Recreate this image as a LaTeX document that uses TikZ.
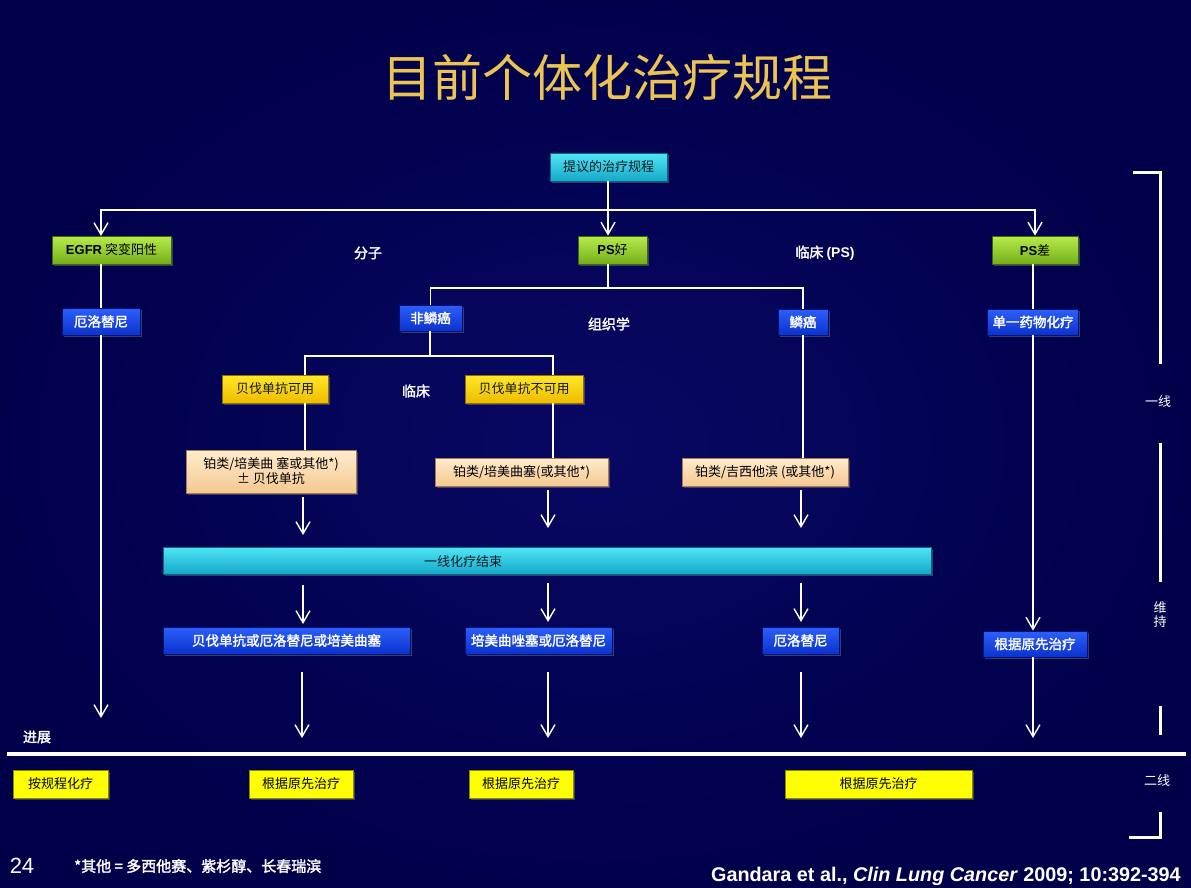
\documentclass[tikz,border=0pt]{standalone}
\usepackage{fontspec}
\setmainfont{Noto Sans CJK SC}[AutoFakeBold=2]
\newfontfamily\lat{Liberation Sans}
\usetikzlibrary{arrows.meta,shadows}
\newcommand\fsz[2]{\fontsize{#1}{#2}\selectfont}
\definecolor{bgin}{RGB}{8,8,100}
\definecolor{bgout}{RGB}{0,0,74}
\definecolor{gold}{RGB}{236,196,84}
\definecolor{cyanT}{RGB}{80,230,245}
\definecolor{cyanB}{RGB}{20,168,200}
\definecolor{cyanD}{RGB}{0,105,135}
\definecolor{greenT}{RGB}{185,235,75}
\definecolor{greenB}{RGB}{115,175,25}
\definecolor{greenD}{RGB}{60,105,10}
\definecolor{blueT}{RGB}{45,95,250}
\definecolor{blueB}{RGB}{10,50,205}
\definecolor{blueD}{RGB}{0,20,120}
\definecolor{goldT}{RGB}{255,232,40}
\definecolor{goldB}{RGB}{238,188,0}
\definecolor{goldD}{RGB}{150,110,0}
\definecolor{peachT}{RGB}{255,236,205}
\definecolor{peachB}{RGB}{245,200,145}
\definecolor{peachD}{RGB}{165,125,80}
\definecolor{yel}{RGB}{255,255,0}
\definecolor{yelD}{RGB}{140,140,0}
\definecolor{dtext}{RGB}{20,25,35}
\tikzset{
  basebox/.style={rectangle, inner sep=0pt, line width=0.8pt,
    drop shadow={shadow xshift=1.5pt, shadow yshift=-1.5pt, opacity=0.45},
    font=\fsz{13}{16}},
  cyanbox/.style={basebox, draw=cyanD, top color=cyanT, bottom color=cyanB, text=dtext},
  greenbox/.style={basebox, draw=greenD, top color=greenT, bottom color=greenB, text=black},
  bluebox/.style={basebox, draw=blueD, top color=blueT, bottom color=blueB, text=white, font=\fsz{13.5}{16}\bfseries},
  goldbox/.style={basebox, draw=goldD, top color=goldT, bottom color=goldB, text=dtext},
  peachbox/.style={basebox, draw=peachD, top color=peachT, bottom color=peachB, text=black},
  yelbox/.style={basebox, draw=yelD, fill=yel, text=black},
  lbl/.style={text=white, font=\fsz{14}{17}\bfseries, inner sep=0pt},
  ln/.style={draw=white, line width=1.4pt},
  arr/.style={ln, -{Straight Barb[length=12pt,width=14pt,line width=1.4pt]}},
  brk/.style={draw=white, line width=3pt},
}
\begin{document}
\begin{tikzpicture}[x=1pt,y=-1pt]
\shade[inner color=bgin, outer color=bgout] (0,0) rectangle (1191,888);
\useasboundingbox (0,0) rectangle (1191,888);

% title
\node[text=gold, font=\fsz{50}{58}] (title) at (607,77) {目前个体化治疗规程};

% boxes
\node[cyanbox, minimum width=117, minimum height=28] (prop) at (608.5,167) {提议的治疗规程};
\node[greenbox, minimum width=119, minimum height=28] (egfr) at (111.5,250) {{\lat\bfseries EGFR} 突变阳性};
\node[greenbox, minimum width=69, minimum height=28] (psgood) at (612.5,250) {{\lat\bfseries PS}好};
\node[greenbox, minimum width=86, minimum height=28] (psbad) at (1035,250) {{\lat\bfseries PS}差};

\node[bluebox, minimum width=78, minimum height=27] (erl1) at (101,321.5) {厄洛替尼};
\node[bluebox, minimum width=63, minimum height=26] (nonsq) at (430.5,318) {非鳞癌};
\node[bluebox, minimum width=50, minimum height=26] (sq) at (803,322) {鳞癌};
\node[bluebox, minimum width=91, minimum height=26] (single) at (1033,322) {单一药物化疗};

\node[goldbox, minimum width=106, minimum height=28] (bev) at (275,389) {贝伐单抗可用};
\node[goldbox, minimum width=118, minimum height=28] (nobev) at (524,389) {贝伐单抗不可用};

\node[peachbox, minimum width=170, minimum height=43, align=center, font=\fsz{13}{15}] (p1) at (271,471.5) {铂类/培美曲 塞或其他*)\\± 贝伐单抗};
\node[peachbox, minimum width=173, minimum height=28] (p2) at (521.5,472) {铂类/培美曲塞(或其他*)};
\node[peachbox, minimum width=166, minimum height=28] (p3) at (765,472) {铂类/吉西他滨 (或其他*)};

\node[cyanbox, minimum width=768, minimum height=27] (endbar) at (547,560.5) {};
\node[text=dtext, font=\fsz{13}{16}, inner sep=0pt] (endlbl) at (463,562) {一线化疗结束};

\node[bluebox, minimum width=247, minimum height=27] (m1) at (286.5,640.5) {贝伐单抗或厄洛替尼或培美曲塞};
\node[bluebox, minimum width=147, minimum height=27] (m2) at (538.5,640.5) {培美曲唑塞或厄洛替尼};
\node[bluebox, minimum width=77, minimum height=27] (m3) at (800.5,640.5) {厄洛替尼};
\node[bluebox, minimum width=104, minimum height=26] (m4) at (1035,644) {根据原先治疗};

\node[yelbox, minimum width=95, minimum height=28] (y1) at (60.5,784) {按规程化疗};
\node[yelbox, minimum width=104, minimum height=28] (y2) at (301,784) {根据原先治疗};
\node[yelbox, minimum width=104, minimum height=28] (y3) at (521,784) {根据原先治疗};
\node[yelbox, minimum width=187, minimum height=28] (y4) at (878.5,784) {根据原先治疗};

% labels
\node[lbl] (lmol) at (368,253) {分子};
\node[lbl] (lclinps) at (825,253) {临床 {\lat(PS)}};
\node[lbl] (lhist) at (609,324) {组织学};
\node[lbl] (lclin) at (416,391) {临床};
\node[lbl] (lprog) at (37,737) {进展};
\node[lbl, font=\fsz{13}{16}] (lfirst) at (1158,402) {一线};
\node[lbl, font=\fsz{13}{14}, align=center] (lmaint) at (1160,615) {维\\持};
\node[lbl, font=\fsz{13}{16}] (lsecond) at (1157,781) {二线};

% coordinates
\coordinate (j0) at (608,210);
\coordinate (eIn) at (101,236);
\coordinate (j1) at (608,288);
\coordinate (j2) at (430,356);
\coordinate (bevIn) at (305,375);
\coordinate (nobevIn) at (553,375);
\coordinate (eOut) at (101,718);

% connectors top
\draw[ln] (prop.south -| j0) -- (j0);
\draw[arr] (j0) -| (eIn);
\draw[arr] (j0) -- (j0 |- psgood.north);
\draw[arr] (j0) -| (psbad.north);
\draw[ln] (egfr.south -| erl1) -- (erl1.north);
\draw[arr] (erl1.south) -- (eOut);
\draw[ln] (psgood.south -| j1) -- (j1);
\draw[ln] (j1) -| (nonsq.north);
\draw[ln] (j1) -| (sq.north);
\draw[ln] (psbad.south -| single) -- (single.north);
\draw[arr] (single.south) -- (single.south |- m4.north);
\draw[ln] (nonsq.south -| j2) -- (j2);
\draw[ln] (j2) -| (bevIn);
\draw[ln] (j2) -| (nobevIn);
\draw[ln] (bev.south -| bevIn) -- (p1.north -| bevIn);
\draw[ln] (nobev.south -| nobevIn) -- (p2.north -| nobevIn);
\draw[ln] (sq.south) -- (p3.north -| sq.south);

% free arrows
\coordinate (a1s) at (303,497); \coordinate (a1e) at (303,535);
\coordinate (a2s) at (548,490); \coordinate (a2e) at (548,528);
\coordinate (a3s) at (801,490); \coordinate (a3e) at (801,528);
\coordinate (b1s) at (303,585); \coordinate (b1e) at (303,624);
\coordinate (b2s) at (548,583); \coordinate (b2e) at (548,622);
\coordinate (b3s) at (801,583); \coordinate (b3e) at (801,622);
\coordinate (c1s) at (302,672); \coordinate (c1e) at (302,738);
\coordinate (c2s) at (548,672); \coordinate (c2e) at (548,738);
\coordinate (c3s) at (801,672); \coordinate (c3e) at (801,738);
\coordinate (c4e) at (1033,738);
\draw[arr] (a1s) -- (a1e);
\draw[arr] (a2s) -- (a2e);
\draw[arr] (a3s) -- (a3e);
\draw[arr] (b1s) -- (b1e);
\draw[arr] (b2s) -- (b2e);
\draw[arr] (b3s) -- (b3e);
\draw[arr] (c1s) -- (c1e);
\draw[arr] (c2s) -- (c2e);
\draw[arr] (c3s) -- (c3e);
\draw[arr] (m4.south -| c4e) -- (c4e);

% separator
\coordinate (sepL) at (7,754); \coordinate (sepR) at (1186,754);
\draw[draw=white, line width=4pt] (sepL) -- (sepR);

% right bracket
\coordinate (k1) at (1133,172); \coordinate (k2) at (1160,172); \coordinate (k3) at (1160,364);
\coordinate (k4) at (1160,443); \coordinate (k5) at (1160,582);
\coordinate (k6) at (1160,706); \coordinate (k7) at (1160,735);
\coordinate (k8) at (1160,812); \coordinate (k9) at (1160,837); \coordinate (k10) at (1129,837);
\draw[brk] (k1) -- (k2) -- (k3);
\draw[brk] (k4) -- (k5);
\draw[brk] (k6) -- (k7);
\draw[brk] (k8) -- (k9) -- (k10);

% footer
\node[text=white, font=\fsz{22}{26}\lat, inner sep=0pt] (pg) at (22,866) {24};
\node[text=white, font=\fsz{15}{18}\bfseries, anchor=west, inner sep=0pt] (fn) at (74,866) {*其他 = 多西他赛、紫杉醇、长春瑞滨};
\node[text=white, font=\fsz{19.8}{23}\lat\bfseries, anchor=east, inner sep=0pt] (cite) at (1181,876) {Gandara et al., \textit{Clin Lung Cancer} 2009; 10:392-394};
\end{tikzpicture}
\end{document}
